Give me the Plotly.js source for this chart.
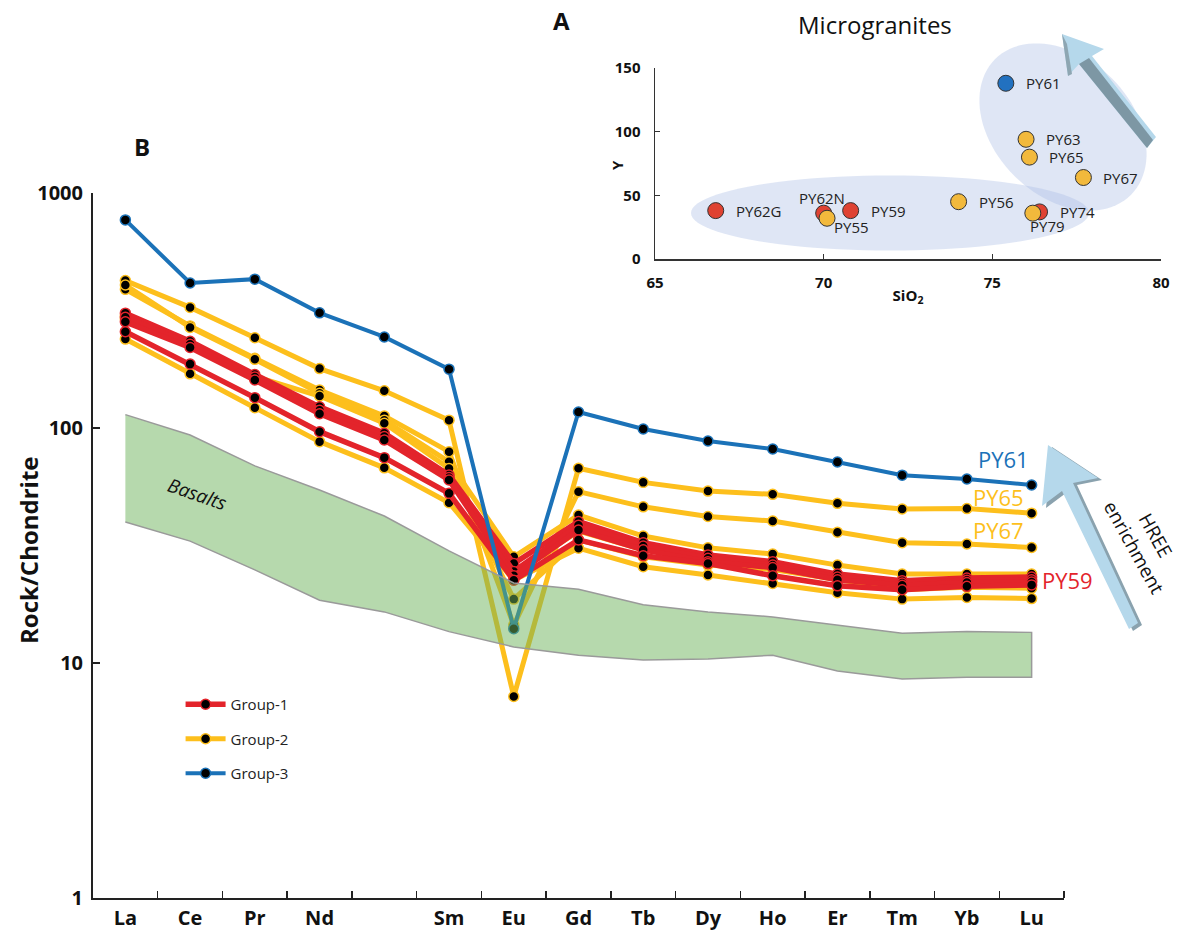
<!DOCTYPE html>
<html><head><meta charset="utf-8">
<script src="https://cdn.plot.ly/plotly-3.0.1.min.js"></script>
<style>html,body{margin:0;padding:0;background:#fff}#chart{width:1188px;height:936px}</style>
</head><body><div id="chart"></div>
<script>
// ---------- main REE diagram (B) ----------
const elements   = ["La","Ce","Pr","Nd","Pm","Sm","Eu","Gd","Tb","Dy","Ho","Er","Tm","Yb","Lu"];
const tickLabels = ["La","Ce","Pr","Nd","","Sm","Eu","Gd","Tb","Dy","Ho","Er","Tm","Yb","Lu"];

// Group-1 (red)
const PY59  = [308, 234, 169, 123, 95, 63.1, 26.5, 40.0, 32.5, 28.8, 27.0, 23.9, 22.4, 23.0, 23.2];
const PY62N = [296, 227, 165, 119, 92, 61.5, 24.5, 38.6, 31.5, 27.9, 26.1, 23.2, 21.9, 22.5, 22.6];
const PY74  = [283, 220, 160, 115, 89, 60.1, 23.5, 36.8, 30.3, 27.0, 25.5, 22.6, 21.4, 22.0, 22.1];
const PY62G = [257, 187, 134.6, 96.5, 74.8, 52.7, 22.5, 33.4, 28.6, 26.5, 23.5, 21.3, 20.5, 21.2, 21.5];
// Group-2 (yellow)
const PY65  = [424, 326, 242, 179, 144, 108, 7.2, 67.4, 58.7, 53.9, 52.2, 47.8, 45.2, 45.4, 43.4];
const PY67  = [389, 272, 198, 145, 112.5, 79.3, 14.5, 53.6, 46.2, 42.0, 40.2, 36.0, 32.5, 32.1, 31.0];
const PY63  = [406, 268, 196, 140.6, 108, 71.8, 28.3, 42.6, 34.7, 30.9, 29.1, 26.1, 23.9, 23.9, 23.9];
const PY56  = [300, 230, 166, 136.8, 104.7, 67.3, 18.7, 33.4, 28.3, 26.1, 25.0, 22.5, 20.5, 21.0, 20.8];
const PY55  = [239, 170, 122, 87.5, 67.7, 48.1, 22.5, 30.8, 25.7, 23.7, 21.8, 19.9, 18.7, 19.0, 18.8];
const PY79  = [290, 224, 162, 117, 91, 62, 24.0, 36.4, 30.3, 27.5, 26.0, 23.4, 22.0, 22.6, 22.3];
// Group-3 (blue)
const PY61  = [768, 414, 430, 309, 244, 178, 14.0, 117, 99, 88, 81.4, 71.7, 63, 60.7, 57.2];

// Basalt field
const basaltUpper = [114, 93.4, 69, 54.5, 42.2, 30.0, 21.9, 20.6, 17.7, 16.5, 15.7, 14.5, 13.4, 13.6, 13.5];
const basaltLower = [39.8, 33, 24.9, 18.5, 16.5, 13.6, 11.7, 10.8, 10.3, 10.4, 10.8, 9.25, 8.55, 8.7, 8.7];

// ---------- inset (A) ----------
const insetSamples = ["PY62G","PY62N","PY59","PY74","PY55","PY56","PY79","PY63","PY65","PY67","PY61"];
const insetSiO2    = [66.8, 70.0, 70.8, 76.4, 70.1, 74.0, 76.2, 76.0, 76.1, 77.7, 75.4];
const insetY       = [38, 36, 38, 37, 32, 45, 36, 94, 80, 64, 138];
const insetGroup   = [1, 1, 1, 1, 2, 2, 2, 2, 2, 2, 3];

// ---------- styling ----------
const W = 1188, H = 936;
const FONT = "Open Sans, Lato, sans-serif";
const RED = "#e3242b", YEL = "#fdbf1c", BLU = "#1b72b8";
const idx = elements.map((_, i) => i);

const seriesDefs = [
  {name:"Group-2", color:YEL, rank:2, width:5, data:[PY65, PY67, PY63, PY56, PY55, PY79]},
  {name:"Group-1", color:RED, rank:1, width:5.5, data:[PY59, PY62N, PY74, PY62G]},
  {name:"Group-3", color:BLU, rank:3, width:4, data:[PY61]}
];

const traces = [];
seriesDefs.forEach(g => {
  g.data.forEach((arr, k) => {
    traces.push({
      type:"scatter", mode:"lines+markers", x:idx, y:arr, xaxis:"x", yaxis:"y",
      name:g.name, legendgroup:g.name, showlegend:k === 0, legendrank:g.rank,
      line:{color:g.color, width:g.width},
      marker:{size:10, color:"#000", line:{color:g.color, width:1.5}},
      hoverinfo:"skip"
    });
  });
});

// basalt field on top (semi transparent)
traces.push({
  type:"scatter", mode:"lines", xaxis:"x", yaxis:"y",
  x: idx.concat(idx.slice().reverse()),
  y: basaltUpper.concat(basaltLower.slice().reverse()),
  fill:"toself", fillcolor:"rgba(109,179,91,0.5)",
  line:{color:"#9a9a9a", width:1.5}, showlegend:false, hoverinfo:"skip"
});

// inset points
const insetColors = {1:"#df4232", 2:"#f2b93c", 3:"#2271c0"};
[1, 2, 3].forEach(gid => {
  const sel = insetGroup.map((g, i) => g === gid ? i : -1).filter(i => i >= 0);
  traces.push({
    type:"scatter", mode:"markers", xaxis:"x2", yaxis:"y2",
    x: sel.map(i => insetSiO2[i]), y: sel.map(i => insetY[i]),
    marker:{size:16, color:insetColors[gid], line:{color:"#333", width:1}},
    showlegend:false, hoverinfo:"skip"
  });
});

// helpers for decorative shapes (paper coordinates from pixel positions)
function P(x, y){ return (x / W).toFixed(5) + "," + (1 - y / H).toFixed(5); }
function polyPath(pts){ return pts.map((p, i) => (i ? "L" : "M") + P(p[0], p[1])).join("") + "Z"; }
function ellipsePath(cx, cy, a, b, ang){
  const th = ang * Math.PI / 180; const pts = [];
  for (let k = 0; k < 96; k++){
    const t = 2 * Math.PI * k / 96, ex = a * Math.cos(t), ey = b * Math.sin(t);
    pts.push([cx + ex * Math.cos(th) - ey * Math.sin(th), cy + ex * Math.sin(th) + ey * Math.cos(th)]);
  }
  return polyPath(pts);
}
function shift(pts, dx, dy){ return pts.map(p => [p[0] + dx, p[1] + dy]); }

const mainArrow = [[1048,445],[1098,478],[1073,483],[1138,623],[1129,629],[1062,491],[1042,506]];
const insetArrow = [[1062,34],[1104,49],[1092,56],[1156,137],[1147,148],[1079,64],[1068,76]];
const insetShaft = [[1079,64],[1089,58],[1153,140],[1147,148]];
const insetHeadSide = [[1062,34],[1068,76],[1072,74],[1067,44]];

const shapes = [
  {type:"path", xref:"paper", yref:"paper", layer:"below", path:ellipsePath(890, 213, 199, 37.5, 0),
   fillcolor:"rgba(170,190,230,0.38)", line:{width:0}},
  {type:"path", xref:"paper", yref:"paper", layer:"below", path:ellipsePath(1063, 127, 96, 69, 45),
   fillcolor:"rgba(170,190,230,0.38)", line:{width:0}},
  {type:"path", xref:"paper", yref:"paper", layer:"above", path:polyPath(shift(mainArrow, 4, 2)),
   fillcolor:"#8aa2ae", line:{width:0}},
  {type:"path", xref:"paper", yref:"paper", layer:"above", path:polyPath(mainArrow),
   fillcolor:"#b5d8eb", line:{width:0}},
  {type:"path", xref:"paper", yref:"paper", layer:"above", path:polyPath(insetArrow),
   fillcolor:"#b5d8eb", line:{width:0}},
  {type:"path", xref:"paper", yref:"paper", layer:"above", path:polyPath(insetShaft),
   fillcolor:"#7d97a4", line:{width:0}},
  {type:"path", xref:"paper", yref:"paper", layer:"above", path:polyPath(insetHeadSide),
   fillcolor:"#8ea6b2", line:{width:0}}
];

// annotations
const lg = v => Math.log10(v);
const paperText = (text, x, y, size, extra) => Object.assign({text, xref:"paper", yref:"paper", x:x/W, y:1-y/H,
  xanchor:"center", yanchor:"middle", showarrow:false, font:{family:FONT, size, color:"#111"}}, extra || {});
const annotations = [
  paperText("<b>A</b>", 561, 20, 24),
  paperText("Microgranites", 875, 24, 24),
  paperText("<b>B</b>", 142, 146, 24),
  paperText("<i>Basalts</i>", 197, 494, 19, {textangle:19}),
  paperText("HREE<br>enrichment", 1145, 541, 19, {textangle:61}),
  paperText("<b>Rock/Chondrite</b>", 28, 550, 24, {textangle:-90}),
  paperText("<b>Y</b>", 617, 165, 15, {textangle:-90}),
  {text:"PY61", xref:"x", yref:"y", x:14, y:lg(PY61[14]), xanchor:"right", yanchor:"middle", xshift:-1, yshift:26, showarrow:false, font:{family:FONT, size:22, color:BLU}},
  {text:"PY65", xref:"x", yref:"y", x:14, y:lg(PY65[14]), xanchor:"right", yanchor:"middle", xshift:-6, yshift:16, showarrow:false, font:{family:FONT, size:22, color:YEL}},
  {text:"PY67", xref:"x", yref:"y", x:14, y:lg(PY67[14]), xanchor:"right", yanchor:"middle", xshift:-6, yshift:18, showarrow:false, font:{family:FONT, size:22, color:YEL}},
  {text:"PY59", xref:"x", yref:"y", x:14, y:lg(PY59[14]), xanchor:"left", yanchor:"middle", xshift:8, yshift:-3, showarrow:false, font:{family:FONT, size:22, color:RED}}
];
const labelOffsets = {
  PY62N:{xa:"center", dx:-2, dy:15}, PY55:{xa:"left", dx:5, dy:-9}, PY79:{xa:"left", dx:-5, dy:-13}
};
insetSamples.forEach((s, i) => {
  const o = labelOffsets[s] || {xa:"left", dx:18, dy:0};
  annotations.push({text:s, xref:"x2", yref:"y2", x:insetSiO2[i], y:insetY[i], xanchor:o.xa, yanchor:"middle",
    xshift:o.dx, yshift:o.dy, showarrow:false, font:{family:FONT, size:15, color:"#222"}});
});

const boundaries = idx.map(i => i + 0.5);

const layout = {
  width:W, height:H, margin:{l:0, r:0, t:0, b:0},
  paper_bgcolor:"#fff", plot_bgcolor:"rgba(0,0,0,0)",
  font:{family:FONT, color:"#111"},
  showlegend:true,
  legend:{x:0.152, y:1-688/H, xanchor:"left", yanchor:"top", bgcolor:"rgba(0,0,0,0)",
    font:{family:FONT, size:15, color:"#222"}, tracegroupgap:12, itemwidth:40, traceorder:"grouped"},
  xaxis:{domain:[93/W, 1064/W], range:[-0.5, 14.5], anchor:"y",
    tickmode:"array", tickvals:idx, ticktext:tickLabels, ticks:"",
    showline:true, linecolor:"#222", linewidth:2, showgrid:false, zeroline:false,
    tickfont:{family:FONT, size:20, color:"#111", weight:"bold"}, ticklabelstandoff:1,
    minor:{tickmode:"array", tickvals:boundaries, ticks:"inside", ticklen:7, tickwidth:1.5, tickcolor:"#222", showgrid:false}},
  yaxis:{domain:[(H-898)/H, (H-193)/H], type:"log", range:[0, 3], anchor:"x",
    tickmode:"array", tickvals:[1, 10, 100, 1000], ticktext:["1","10","100","1000"],
    ticks:"inside", ticklen:7, tickwidth:1.5, tickcolor:"#222",
    showline:true, linecolor:"#222", linewidth:2, showgrid:false, zeroline:false,
    tickfont:{family:FONT, size:20, color:"#111", weight:"bold"}, ticklabelstandoff:4},
  xaxis2:{domain:[655/W, 1161/W], range:[65, 80], anchor:"y2",
    tickmode:"array", tickvals:[65, 70, 75, 80], ticks:"inside", ticklen:5, tickwidth:1.2, tickcolor:"#333",
    showline:true, linecolor:"#333", linewidth:1.5, showgrid:false, zeroline:false,
    tickfont:{family:FONT, size:15, color:"#111", weight:"bold"}, ticklabelstandoff:9,
    title:{text:"SiO<sub>2</sub>", font:{family:FONT, size:15, color:"#111", weight:"bold"}, standoff:0}},
  yaxis2:{domain:[(H-259)/H, (H-68)/H], range:[0, 150], anchor:"x2",
    tickmode:"array", tickvals:[0, 50, 100, 150], ticks:"inside", ticklen:5, tickwidth:1.2, tickcolor:"#333",
    showline:true, linecolor:"#333", linewidth:1.5, showgrid:false, zeroline:false,
    tickfont:{family:FONT, size:15, color:"#111", weight:"bold"}, ticklabelstandoff:10},
  shapes:shapes, annotations:annotations
};

Plotly.newPlot("chart", traces, layout, {displayModeBar:false, staticPlot:true});
</script></body></html>
